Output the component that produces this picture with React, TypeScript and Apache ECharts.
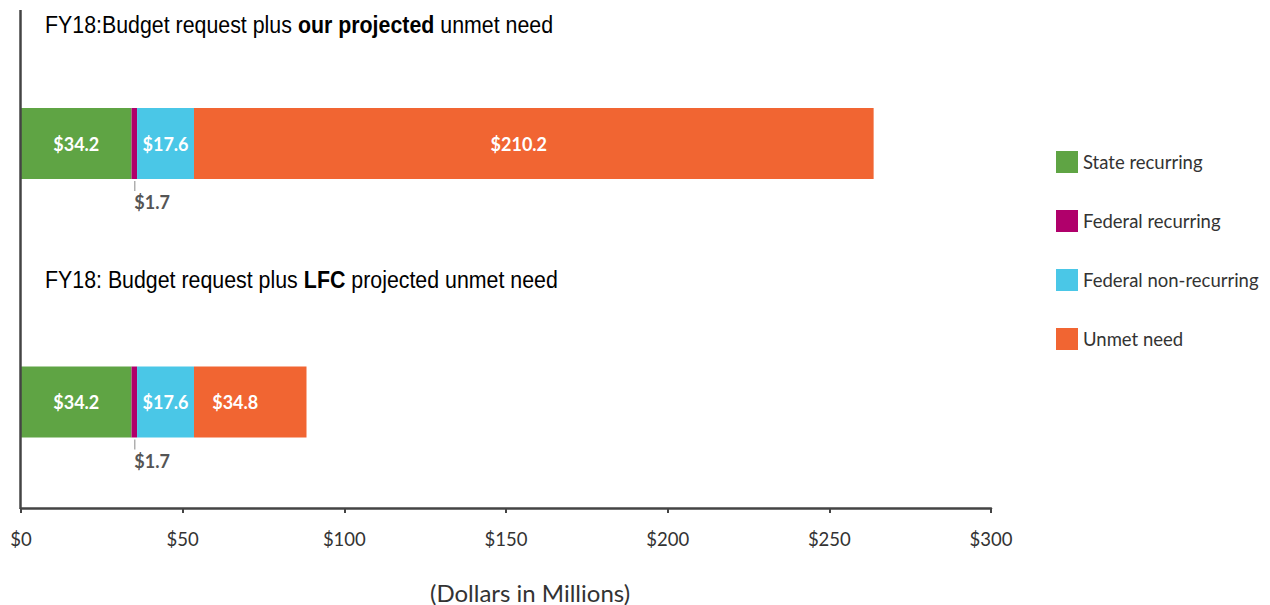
import React, { useEffect, useRef } from "react";
import * as echarts from "echarts";

const categories = ["our projected", "LFC projected"];
const seriesNames = ["State recurring", "Federal recurring", "Federal non-recurring", "Unmet need"];
const stateRecurring = [34.2, 34.2];
const federalRecurring = [1.7, 1.7];
const federalNonRecurring = [17.6, 17.6];
const unmetNeed = [210.2, 34.8];
const xTickValues = [0, 50, 100, 150, 200, 250, 300];
const titleParts = [
  ["FY18:Budget request plus ", "our projected", " unmet need"],
  ["FY18: Budget request plus ", "LFC", " projected unmet need"],
];
const axisName = "(Dollars in Millions)";

const COLORS = ["#5fa444", "#b0006b", "#4ac7e7", "#f16532"];
const NARROW = "'Liberation Sans', Arial, sans-serif";
const SANS = "Lato, 'Open Sans', sans-serif";

export default function App() {
  const ref = useRef<HTMLDivElement>(null);
  useEffect(() => {
    if (!ref.current) return;
    const chart = echarts.init(ref.current, undefined, { renderer: "svg" });
    const values = [stateRecurring, federalRecurring, federalNonRecurring, unmetNeed];
    const insideLabel = (i: number) => ({
      show: true,
      position: "inside",
      offset: i === 3 ? [-15, 0] : [0, 0],
      color: "#fff",
      fontFamily: SANS,
      fontWeight: "bold",
      fontSize: 18,
      formatter: (p: any) => "$" + p.value,
    });
    const series = values.map((arr, i) => ({
      name: seriesNames[i],
      type: "bar",
      stack: "total",
      barWidth: 71,
      itemStyle: { color: COLORS[i] },
      data: arr,
      label:
        i === 1
          ? {
              show: true,
              position: "bottom",
              distance: 2,
              align: "left",
              formatter: (p: any) => "{l| }\n{v|$" + p.value + "}",
              rich: {
                l: { width: 1, height: 10, lineHeight: 10, backgroundColor: "#888" },
                v: {
                  fontFamily: SANS,
                  fontWeight: "bold",
                  fontSize: 18,
                  lineHeight: 22,
                  color: "#555",
                },
              },
            }
          : insideLabel(i),
    }));
    const titleY = [25, 280];
    const titleGraphics = titleParts.map((parts, i) => ({
      type: "text",
      x: 45,
      y: titleY[i],
      scaleX: 0.89,
      style: {
        text: "{n|" + parts[0] + "}{b|" + parts[1] + "}{n|" + parts[2] + "}",
        verticalAlign: "middle",
        rich: {
          n: { fontFamily: NARROW, fontSize: 24, color: "#222" },
          b: { fontFamily: NARROW, fontSize: 24, fontWeight: "bold", color: "#222" },
        },
      },
    }));
    chart.setOption({
      animation: false,
      grid: { left: 21, right: 279, top: 14.25, bottom: 73.75, containLabel: false },
      legend: {
        orient: "vertical",
        left: 1051,
        top: 146,
        itemWidth: 22,
        itemHeight: 22,
        itemGap: 37,
        icon: "rect",
        selectedMode: false,
        data: seriesNames,
        textStyle: { fontFamily: SANS, fontSize: 18.5, color: "#333" },
      },
      xAxis: {
        type: "value",
        min: xTickValues[0],
        max: xTickValues[xTickValues.length - 1],
        interval: xTickValues[1] - xTickValues[0],
        offset: -23.25,
        axisLine: { show: true, lineStyle: { color: "#444", width: 2.5 } },
        axisTick: { show: true, length: 5, lineStyle: { color: "#444", width: 2 } },
        splitLine: { show: false },
        axisLabel: {
          margin: 21,
          color: "#333",
          fontFamily: SANS,
          fontSize: 18.5,
          formatter: (v: number) => "$" + v,
        },
      },
      yAxis: {
        type: "category",
        inverse: true,
        data: categories,
        axisLine: { show: false },
        axisTick: { show: false },
        axisLabel: { show: false },
      },
      graphic: [
        {
          type: "line",
          shape: { x1: 20.5, y1: 10, x2: 20.5, y2: 509 },
          style: { stroke: "#444", lineWidth: 2.5 },
          z: 10,
        },
        ...titleGraphics,
        {
          type: "text",
          x: 530,
          y: 592,
          style: {
            text: axisName,
            align: "center",
            verticalAlign: "middle",
            fontFamily: SANS,
            fontSize: 24,
            fill: "#333",
          },
        },
      ],
      series,
    });
    return () => chart.dispose();
  }, []);
  return (
    <div
      ref={ref}
      style={{ position: "absolute", left: 0, top: 0, width: 1270, height: 605 }}
    />
  );
}
